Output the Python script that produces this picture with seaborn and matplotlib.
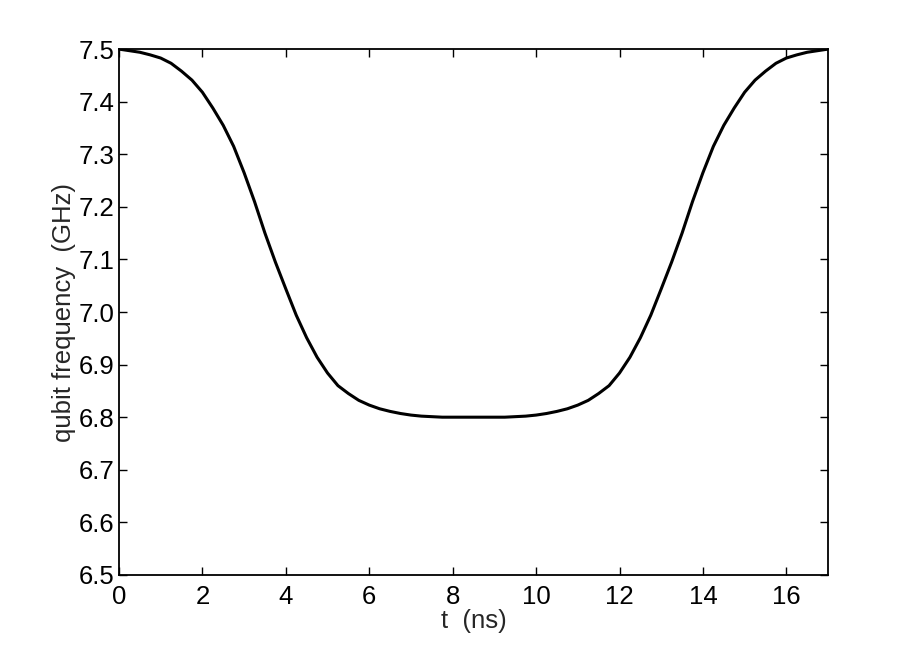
import matplotlib
matplotlib.use("Agg")
import matplotlib.pyplot as plt
import numpy as np
import pandas as pd
import seaborn as sns

# values
t_ns = [
    0.00, 0.25, 0.50, 0.75, 1.00, 1.25, 1.50, 1.75, 2.00, 2.25, 2.50, 2.75,
    3.00, 3.25, 3.50, 3.75, 4.00, 4.25, 4.50, 4.75, 5.00, 5.25, 5.50, 5.75,
    6.00, 6.25, 6.50, 6.75, 7.00, 7.25, 7.50, 7.75, 8.00, 8.25, 8.50,
    8.75, 9.00, 9.25, 9.50, 9.75, 10.00, 10.25, 10.50, 10.75, 11.00, 11.25,
    11.50, 11.75, 12.00, 12.25, 12.50, 12.75, 13.00, 13.25, 13.50, 13.75,
    14.00, 14.25, 14.50, 14.75, 15.00, 15.25, 15.50, 15.75, 16.00, 16.25,
    16.50, 16.75, 17.00,
]
freq_ghz = [
    7.500, 7.497, 7.494, 7.489, 7.483, 7.473, 7.458, 7.441, 7.418, 7.388,
    7.355, 7.315, 7.265, 7.210, 7.150, 7.095, 7.044, 6.994, 6.951, 6.914,
    6.884, 6.860, 6.845, 6.832, 6.823, 6.816, 6.811, 6.807, 6.804, 6.802,
    6.801, 6.800, 6.800, 6.800, 6.800,
    6.800, 6.800, 6.800, 6.801, 6.802, 6.804, 6.807, 6.811, 6.816, 6.823,
    6.832, 6.845, 6.860, 6.884, 6.914, 6.951, 6.994, 7.044, 7.095, 7.150,
    7.210, 7.265, 7.315, 7.355, 7.388, 7.418, 7.441, 7.458, 7.473, 7.483,
    7.489, 7.494, 7.497, 7.500,
]
x_ticks = [0, 2, 4, 6, 8, 10, 12, 14, 16]
y_ticks = [6.5, 6.6, 6.7, 6.8, 6.9, 7.0, 7.1, 7.2, 7.3, 7.4, 7.5]

df = pd.DataFrame({"t": t_ns, "f": freq_ghz})

sns.set_theme(style="ticks")
plt.rcParams["font.family"] = ["Liberation Sans", "DejaVu Sans"]

fig = plt.figure(figsize=(9.15, 6.46), dpi=100)
ax = fig.add_axes([0.130, 0.110, 0.775, 0.814])

sns.lineplot(data=df, x="t", y="f", ax=ax, color="black", linewidth=2.2)

ax.set_xlim(0, 17)
ax.set_ylim(6.5, 7.5)
ax.set_xticks(x_ticks)
ax.set_yticks(y_ticks)
ax.set_yticklabels([f"{v:.1f}" for v in y_ticks])

for side in ["top", "right", "left", "bottom"]:
    ax.spines[side].set_visible(True)
    ax.spines[side].set_linewidth(1.3)
    ax.spines[side].set_color("black")

ax.tick_params(direction="in", length=6, width=1, top=True, right=True,
               labelsize=18.5, colors="black")
ax.tick_params(axis="x", pad=7)
ax.tick_params(axis="y", pad=3)

ax.set_xlabel("t  (ns)", fontsize=18.5, labelpad=0)
ax.set_ylabel("qubit frequency  (GHz)", fontsize=18.5, labelpad=2)
ax.grid(False)

fig.savefig("out.png", dpi=100, facecolor="white")
